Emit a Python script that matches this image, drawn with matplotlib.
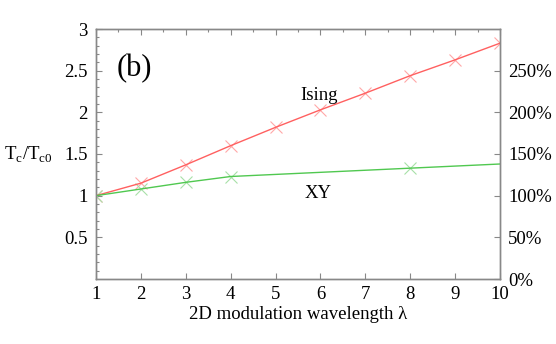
import matplotlib
matplotlib.use("Agg")
import matplotlib.pyplot as plt
import numpy as np

plt.rcParams['font.family'] = ['Liberation Serif', 'DejaVu Serif']
plt.rcParams['mathtext.fontset'] = 'custom'
plt.rcParams['mathtext.rm'] = 'Liberation Serif'

wavelength = [1, 2, 3, 4, 5, 6, 7, 8, 9, 10]
ising = [1.00, 1.15, 1.37, 1.60, 1.82, 2.03, 2.23, 2.44, 2.63, 2.83]
xy_line_x = [1, 2, 3, 4, 8, 10]
xy_line = [1.00, 1.08, 1.16, 1.23, 1.33, 1.38]
xy_marker_x = [1, 2, 3, 4, 8]
xy_marker = [1.00, 1.08, 1.16, 1.23, 1.33]
left_ticks = [0.5, 1, 1.5, 2, 2.5, 3]
left_labels = ['0.5', '1', '1.5', '2', '2.5', '3']
right_ticks = [0, 50, 100, 150, 200, 250]
right_labels = ['0%', '50%', '100%', '150%', '200%', '250%']

fig = plt.figure(figsize=(5.56, 3.44), dpi=100)
ax = fig.add_axes([96/556, 65/344, 404/556, 250/344])

red = '#ff6060'
red_m = '#ffa8a8'
green = '#50c850'
green_m = '#a8e0a8'

ax.plot(wavelength, ising, color=red, lw=1.0, zorder=3)
ax.plot(wavelength, ising, ls='none', marker='x', ms=9, mew=0.8, color=red_m, zorder=2)
ax.plot(xy_line_x, xy_line, color=green, lw=1.0, zorder=3)
ax.plot(xy_marker_x, xy_marker, ls='none', marker='x', ms=9, mew=0.8, color=green_m, zorder=2)

ax.set_xlim(1, 10)
ax.set_ylim(0, 3)
ax.set_xticks(wavelength)
ax.set_xticks(np.arange(1.5, 10, 1.0), minor=True)
ax.set_yticks(left_ticks)
ax.set_yticklabels(left_labels)
ax.set_yticks(np.arange(0.1, 3.0, 0.1), minor=True)

fs = 13.5
gray = '#888888'
for s in ax.spines.values():
    s.set_color(gray)
    s.set_linewidth(1.0)
ax.tick_params(axis='both', which='major', direction='in', length=4, width=0.8,
               color=gray, labelsize=fs, top=True, right=False)
ax.tick_params(axis='x', which='minor', direction='in', length=2.5, width=0.8,
               color=gray, top=True, bottom=False)
ax.tick_params(axis='y', which='minor', direction='in', length=2, width=0.8,
               color=gray, right=False)
ax.tick_params(axis='x', pad=5)
ax.tick_params(axis='y', pad=6)

ax2 = ax.twinx()
ax2.set_ylim(0, 300)
ax2.set_yticks(right_ticks)
ax2.set_yticklabels(right_labels)
for s in ax2.spines.values():
    s.set_color(gray)
    s.set_linewidth(1.0)
ax2.tick_params(axis='y', direction='in', length=4, width=0.8, color=gray,
                labelsize=fs, pad=6)

ax.set_xlabel('2D modulation wavelength λ', fontsize=fs, labelpad=2)
fig.text(4/556, 1 - 155/344, r'T$_\mathrm{c}$/T$_\mathrm{c0}$', fontsize=fs,
         ha='left', va='center')

ax.text(1.47, 2.53, '(b)', fontsize=22, ha='left', va='center')
ax.text(5.55, 2.2, 'Ising', fontsize=fs, ha='left', va='center')
ax.text(5.65, 1.02, 'XY', fontsize=fs, ha='left', va='center')

fig.savefig('out.png', dpi=100)
